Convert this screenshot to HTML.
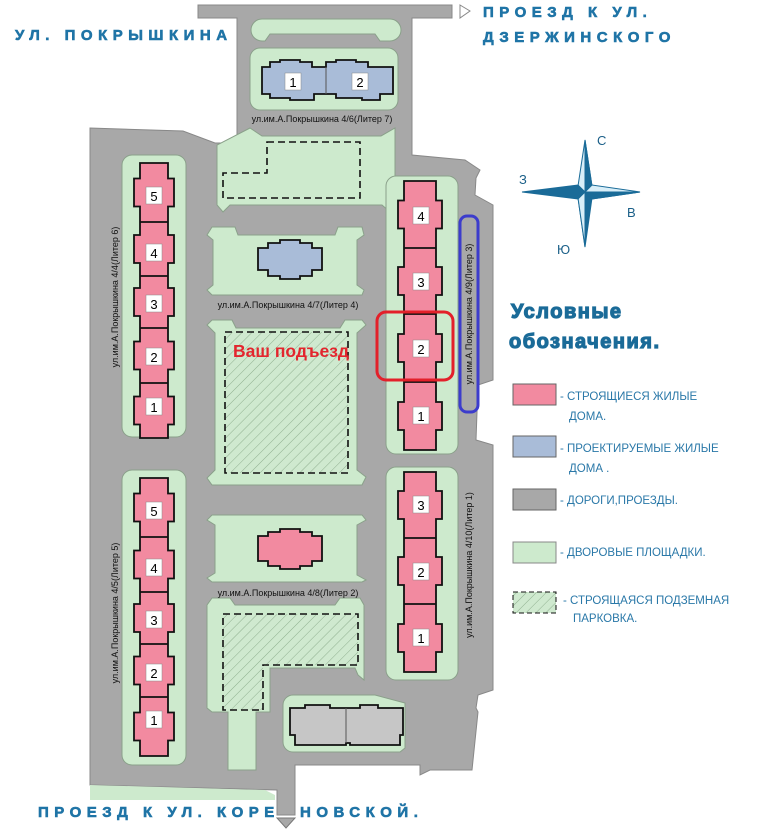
<!DOCTYPE html>
<html><head><meta charset="utf-8"><style>
html,body{margin:0;padding:0;background:#fff;width:768px;height:833px;overflow:hidden}
svg{display:block}
.h{font-family:"Liberation Sans",sans-serif;font-weight:bold;fill:#1f74a6;font-size:15px;letter-spacing:5.5px;stroke:#1f74a6;stroke-width:0.6}
.lb{font-family:"Liberation Sans",sans-serif;font-size:9px;fill:#111}
.n{font-family:"Liberation Sans",sans-serif;font-size:13px;fill:#000;text-anchor:middle}
.lg{font-family:"Liberation Sans",sans-serif;font-size:11.5px;fill:#2a78a8}
</style></head><body>
<svg id="s" width="768" height="833" viewBox="0 0 768 833" xmlns="http://www.w3.org/2000/svg">
<defs>
<pattern id="hat" width="7" height="7" patternUnits="userSpaceOnUse" patternTransform="rotate(45)">
<rect width="7" height="7" fill="#cfe9cf"/><line x1="0" y1="0" x2="0" y2="7" stroke="#8fb08f" stroke-width="1"/>
</pattern>
</defs>
<path d="M198,5 H452 V18 H412 V155 L465,160 L480,170 L476,178 475,195 493,205 V380 L478,385 476,440 493,445 V690 L478,695 476,708 478,712 L472,770 H430 L420,775 V765 H295 V815 H277 V790 L90,785 V128 L183,131 L215,143 H237 V18 H198 Z" fill="#a8a8a8" stroke="#888" stroke-width="1"/>
<path d="M90,785 L265,790 L275,795 V800 H90 Z" fill="#cdeacd"/>
<polygon points="277,818 295,818 286,828" fill="#a8a8a8" stroke="#777"/>
<polygon points="460,5 470,11 460,18" fill="#fff" stroke="#888"/>
<g fill="#cdeacd" stroke="#8aa08a" stroke-width="1">
<path d="M262,19 H390 A10,10 0 0 1 390,41 H380 L375,34 H270 L265,41 H262 A10,10 0 0 1 262,19Z"/>
<rect x="250" y="48" width="148" height="62" rx="10"/>
<path d="M250,128 L262,136 H381 L395,128 V205 L390,212 L382,205 H230 L223,212 L217,205 V145 Z"/>
<rect x="122" y="155" width="64" height="282" rx="10"/>
<rect x="122" y="470" width="64" height="295" rx="10"/>
<path d="M212,227 H235 L238,235 H335 L338,227 H362 L364,235 L357,240 V285 L364,290 L362,295 H212 L207,290 L213,285 V240 L207,235 Z"/>
<path d="M212,320 H232 L236,328 H340 L345,320 H362 L366,325 L357,333 V470 L366,477 L362,485 H212 L207,478 L215,470 V333 L207,325Z"/>
<path d="M212,515 H362 L366,520 L357,525 V575 L366,580 L362,582 H212 L207,578 L215,573 V525 L207,520Z"/>
<path d="M212,598 H230 L235,605 H335 L340,598 H360 L364,605 V680 L358,675 L355,668 H270 V712 H256 V770 H228 V712 H212 L207,708 V605Z"/>
<rect x="386" y="176" width="72" height="278" rx="10"/>
<rect x="386" y="467" width="72" height="213" rx="10"/>
<path d="M293,695 H375 L405,703 V748 L400,752 H293 A10,10 0 0 1 283,742 V705 A10,10 0 0 1 293,695Z"/>
</g>
<g stroke="#111" stroke-width="1.6" stroke-dasharray="7,4">
<path d="M267,142 H360 V198 H223 V173 H267 Z" fill="none"/>
<rect x="225" y="332" width="123" height="141" fill="url(#hat)"/>
<path d="M223,614 H358 V665 H263 V710 H223 Z" fill="url(#hat)"/>
</g>
<g id="bld" stroke="#111" stroke-width="1.8"></g>
<path d="M262,67 H270 V62 H280 V60 H300 V62 H312 V67 H326 V62 H336 V60 H356 V62 H368 V67 H393 V94 H380 V100 H362 V98 H336 V94 H314 V100 H290 V98 H270 V94 H262 Z" fill="#a9bcd8" stroke="#111" stroke-width="1.8"/>
<line x1="326" y1="67" x2="326" y2="94" stroke="#555"/>
<path d="M258,248 H268 V243 H280 V240 H300 V243 H312 V248 H322 V270 H312 V276 H300 V279 H280 V276 H268 V270 H258 Z" fill="#a9bcd8" stroke="#111" stroke-width="1.8"/>
<path d="M258,536 H268 V532 H280 V529 H300 V532 H312 V536 H322 V561 H312 V566 H300 V569 H280 V566 H268 V561 H258 Z" fill="#f28aa0" stroke="#111" stroke-width="1.8"/>
<path d="M290,708 H305 V705 H330 V708 H360 V705 H378 V708 H403 V735 H400 V745 H350 V743 H346 V745 H295 V735 H290 Z" fill="#c6c6c6" stroke="#111" stroke-width="1.8"/>
<line x1="346" y1="708" x2="346" y2="743" stroke="#555"/>
<g fill="#fff" stroke="#888" stroke-width="0.5">
<rect x="285" y="73" width="16" height="17"/><rect x="352" y="73" width="16" height="17"/>
<rect x="146" y="187" width="16" height="17"/><rect x="146" y="244" width="16" height="17"/><rect x="146" y="295" width="16" height="17"/><rect x="146" y="348" width="16" height="17"/><rect x="146" y="398" width="16" height="17"/>
<rect x="146" y="502" width="16" height="17"/><rect x="146" y="559" width="16" height="17"/><rect x="146" y="611" width="16" height="17"/><rect x="146" y="664" width="16" height="17"/><rect x="146" y="711" width="16" height="17"/>
<rect x="413" y="207" width="16" height="17"/><rect x="413" y="273" width="16" height="17"/><rect x="413" y="340" width="16" height="17"/><rect x="413" y="407" width="16" height="17"/>
<rect x="413" y="496" width="16" height="17"/><rect x="413" y="563" width="16" height="17"/><rect x="413" y="629" width="16" height="17"/>
</g>
<g class="n">
<text x="293" y="87">1</text><text x="360" y="87">2</text>
<text x="154" y="201">5</text><text x="154" y="258">4</text><text x="154" y="309">3</text><text x="154" y="362">2</text><text x="154" y="412">1</text>
<text x="154" y="516">5</text><text x="154" y="573">4</text><text x="154" y="625">3</text><text x="154" y="678">2</text><text x="154" y="725">1</text>
<text x="421" y="221">4</text><text x="421" y="287">3</text><text x="421" y="354">2</text><text x="421" y="421">1</text>
<text x="421" y="510">3</text><text x="421" y="577">2</text><text x="421" y="643">1</text>
</g>
<rect x="377" y="312" width="76" height="68" rx="9" fill="none" stroke="#e3202a" stroke-width="3"/>
<rect x="460" y="216" width="18" height="196" rx="7" fill="none" stroke="#3c3ccc" stroke-width="3"/>
<text x="233" y="357" font-family="Liberation Sans,sans-serif" font-weight="bold" font-size="17.5" fill="#e3262e">Ваш подъезд</text>
<g class="lb">
<text x="322" y="122" text-anchor="middle">ул.им.А.Покрышкина 4/6(Литер 7)</text>
<text x="288" y="308" text-anchor="middle">ул.им.А.Покрышкина 4/7(Литер 4)</text>
<text x="288" y="596" text-anchor="middle">ул.им.А.Покрышкина 4/8(Литер 2)</text>
<text transform="translate(118,297) rotate(-90)" text-anchor="middle">ул.им.А.Покрышкина 4/4(Литер 6)</text>
<text transform="translate(118,613) rotate(-90)" text-anchor="middle">ул.им.А.Покрышкина 4/5(Литер 5)</text>
<text transform="translate(472,314) rotate(-90)" text-anchor="middle">ул.им.А.Покрышкина 4/9(Литер 3)</text>
<text transform="translate(472,565) rotate(-90)" text-anchor="middle">ул.им.А.Покрышкина 4/10(Литер 1)</text>
</g>
<text class="h" x="15" y="40">УЛ. ПОКРЫШКИНА</text>
<text class="h" x="483" y="17">ПРОЕЗД К УЛ.</text>
<text class="h" x="483" y="42">ДЗЕРЖИНСКОГО</text>
<text class="h" x="38" y="817">ПРОЕЗД К УЛ. КОРЕ</text>
<text class="h" x="300" y="817">НОВСКОЙ.</text>
<g stroke="#1a6b98" stroke-width="1">
<polygon points="585,140 592,186 585,192 578,186" fill="#d8eef8"/>
<polygon points="585,140 592,186 585,192" fill="#1a6b98"/>
<polygon points="585,247 592,198 585,192 578,198" fill="#1a6b98"/>
<polygon points="585,247 578,198 585,192" fill="#d8eef8"/>
<polygon points="522,192 578,185 585,192 578,199" fill="#1a6b98"/>
<polygon points="640,192 592,185 585,192 592,199" fill="#d8eef8"/>
<polygon points="640,192 592,199 585,192" fill="#1a6b98"/>
</g>
<g font-family="Liberation Sans,sans-serif" font-size="13" fill="#1a5f88">
<text x="597" y="145">С</text><text x="519" y="184">З</text><text x="627" y="217">В</text><text x="557" y="254">Ю</text>
</g>
<g font-family="Liberation Sans,sans-serif" font-weight="bold" font-size="20" fill="#1a6b98" stroke="#1a6b98" stroke-width="1.2" letter-spacing="1.5">
<text x="511" y="318">Условные</text>
<text x="509" y="348">обозначения.</text>
</g>
<rect x="513" y="384" width="43" height="21" fill="#f28aa0" stroke="#666"/>
<rect x="513" y="436" width="43" height="21" fill="#a9bcd8" stroke="#666"/>
<rect x="513" y="489" width="43" height="21" fill="#a8a8a8" stroke="#666"/>
<rect x="513" y="542" width="43" height="21" fill="#cdeacd" stroke="#888"/>
<rect x="513" y="592" width="43" height="21" fill="url(#hat)" stroke="#111" stroke-dasharray="5,3"/>
<g class="lg">
<text x="560" y="400">- СТРОЯЩИЕСЯ ЖИЛЫЕ</text><text x="569" y="420">ДОМА.</text>
<text x="560" y="452">- ПРОЕКТИРУЕМЫЕ ЖИЛЫЕ</text><text x="569" y="472">ДОМА .</text>
<text x="560" y="504">- ДОРОГИ,ПРОЕЗДЫ.</text>
<text x="560" y="556">- ДВОРОВЫЕ ПЛОЩАДКИ.</text>
<text x="563" y="604">- СТРОЯЩАЯСЯ ПОДЗЕМНАЯ</text><text x="573" y="622">ПАРКОВКА.</text>
</g>
</svg>
<script>
(function(){
var g=document.getElementById('bld'),ns='http://www.w3.org/2000/svg';
function col(L,R,ys){
 var d='';
 for(var i=0;i<ys.length-1;i++){
  var a=ys[i],b=ys[i+1],m=(a+b)/2,w=6;
  d+='M'+(L+w)+','+a+'H'+(R-w)+'V'+(m-14)+'H'+R+'V'+(m+14)+'H'+(R-w)+'V'+b+'H'+(L+w)+'V'+(m+14)+'H'+L+'V'+(m-14)+'H'+(L+w)+'Z';
 }
 var p=document.createElementNS(ns,'path');p.setAttribute('d',d);p.setAttribute('fill','#f28aa0');g.appendChild(p);
}
col(134,174,[163,222,276,328,383,438]);
col(134,174,[478,537,592,644,697,756]);
col(398,442,[181,248,314,382,450]);
col(398,442,[472,538,604,672]);
})();
</script>
</body></html>
